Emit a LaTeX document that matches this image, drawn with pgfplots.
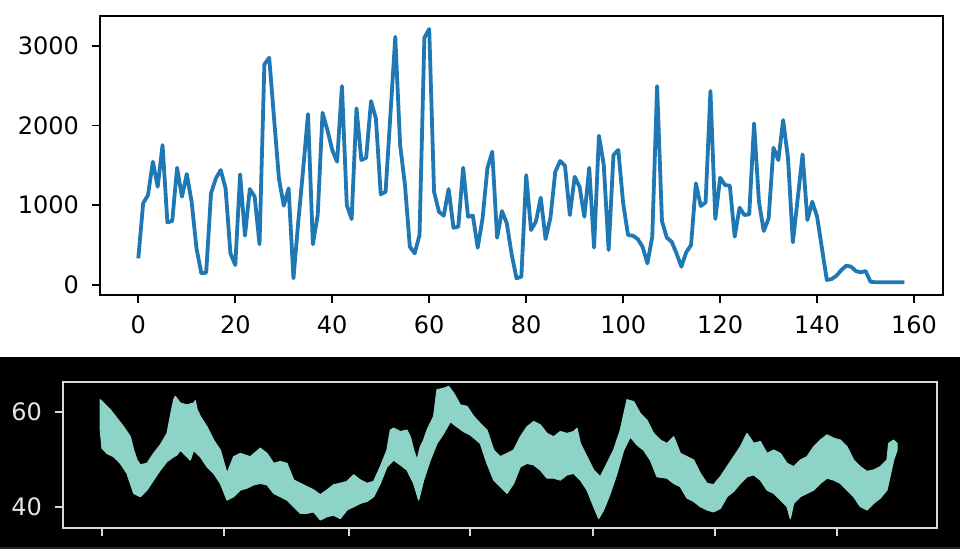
\documentclass[border=0pt]{standalone}
\usepackage{fontspec}
\setmainfont{DejaVu Sans}
\usepackage{pgfplots}
\pgfplotsset{compat=1.18}
\definecolor{mplblue}{HTML}{1F77B4}
\definecolor{dteal}{HTML}{8DD3C7}
\begin{document}
\begin{tikzpicture}
\fill[white] (0,96.15pt) rectangle (480pt,274.5pt);
\fill[black] (0,1.15pt) rectangle (480pt,96.15pt);
\fill[black!85!white] (0,0) rectangle (480pt,1.15pt);
\begin{axis}[
  at={(50pt,127pt)}, anchor=south west,
  scale only axis, width=421.35pt, height=139.65pt,
  xmin=-7.9, xmax=165.9, ymin=-125, ymax=3375,
  xtick={0,20,...,160}, ytick={0,1000,2000,3000},
  scaled ticks=false,
  /pgf/number format/set thousands separator={},
  /pgf/number format/assume math mode=true,
  tick pos=left, tick align=outside, major tick length=4pt,
  axis line style={line width=0.9pt, black},
  tick style={line width=0.9pt, black},
  ticklabel style={font=\fontsize{12}{14}\selectfont, text=black},
  xticklabel style={yshift=-3pt},
  yticklabel style={xshift=-3pt},
]
\addplot[mplblue, line width=1.9pt, line join=round] coordinates {
(0,334)(1,1023)(2,1128)(3,1545)(4,1232)(5,1754)(6,785)(7,802)(8,1470)(9,1107)
(10,1391)(11,1044)(12,459)(13,146)(14,155)(15,1149)(16,1337)(17,1441)(18,1211)(19,397)
(20,251)(21,1387)(22,618)(23,1203)(24,1107)(25,510)(26,2765)(27,2848)(28,2088)(29,1337)
(30,994)(31,1211)(32,84)(33,800)(34,1450)(35,2143)(36,510)(37,877)(38,2159)(39,1942)
(40,1692)(41,1545)(42,2493)(43,1002)(44,827)(45,2214)(46,1566)(47,1595)(48,2305)(49,2088)
(50,1136)(51,1169)(52,2139)(53,3111)(54,1754)(55,1253)(56,480)(57,397)(58,627)(59,3099)
(60,3208)(61,1169)(62,919)(63,869)(64,1203)(65,718)(66,731)(67,1470)(68,856)(69,869)
(70,468)(71,835)(72,1462)(73,1671)(74,593)(75,927)(76,773)(77,384)(78,84)(79,104)
(80,1378)(81,689)(82,794)(83,1094)(84,576)(85,844)(86,1420)(87,1554)(88,1495)(89,877)
(90,1357)(91,1232)(92,856)(93,1470)(94,468)(95,1871)(96,1504)(97,439)(98,1629)(99,1692)
(100,1023)(101,627)(102,618)(103,576)(104,480)(105,271)(106,606)(107,2493)(108,802)(109,593)
(110,543)(111,397)(112,230)(113,409)(114,501)(115,1274)(116,990)(117,1036)(118,2431)(119,827)
(120,1345)(121,1253)(122,1245)(123,606)(124,969)(125,877)(126,886)(127,2026)(128,1044)(129,677)
(130,835)(131,1721)(132,1566)(133,2067)(134,1587)(135,535)(136,1086)(137,1637)(138,815)(139,1044)
(140,856)(141,459)(142,63)(143,75)(144,117)(145,188)(146,242)(147,230)(148,175)(149,159)
(150,175)(151,42)(152,34)(153,34)(154,34)(155,34)(156,34)(157,34)(158,34)
};
\end{axis}
\begin{axis}[
  at={(31.5pt,10.5pt)}, anchor=south west,
  scale only axis, width=437pt, height=73.15pt,
  xmin=188, xmax=2810, ymin=35.5, ymax=66.3,
  xtick={305,672,1045,1410,1777,2145,2510}, xticklabels={},
  ytick={40,60},
  /pgf/number format/assume math mode=true,
  tick pos=left, tick align=outside, major tick length=4pt,
  axis line style={line width=0.9pt, white!85!black},
  tick style={line width=0.9pt, white!85!black},
  ticklabel style={font=\fontsize{12}{14}\selectfont, text=white!90!black},
  yticklabel style={xshift=-3pt},
]
\addplot[fill=dteal, draw=dteal, line width=0.6pt, line join=round] coordinates {
(300,62.5)(310,61.8)(330,60.4)(350,58.6)(370,56.8)(390,54.7)(400,51.9)(410,49.8)(420,48.8)(440,49.1)
(460,51.2)(480,53.0)(500,55.4)(510,59.0)(520,62.5)(525,63.2)(540,61.8)(560,61.4)(580,61.8)(585,62.3)(590,60.5)
(600,59.0)(620,56.8)(640,54.0)(660,51.9)(680,47.0)(700,50.5)(720,51.2)(750,50.5)(780,52.3)(800,51.2)
(820,49.1)(840,49.5)(860,49.1)(880,45.6)(900,44.9)(920,44.2)(940,43.5)(960,42.5)(980,43.5)(1000,44.6)
(1020,44.9)(1040,45.3)(1060,46.7)(1080,45.6)(1100,44.9)(1120,45.3)(1140,48.4)(1160,51.9)(1170,56.1)(1180,56.5)
(1200,55.8)(1220,56.1)(1230,54.7)(1240,51.9)(1250,49.8)(1260,52.6)(1270,54.0)(1280,56.1)(1300,59.0)(1310,64.6)
(1330,64.9)(1345,65.3)(1360,63.9)(1380,61.4)(1400,61.1)(1420,59.0)(1440,57.5)(1460,56.1)(1480,51.9)(1500,50.5)
(1520,51.2)(1540,51.9)(1560,54.7)(1580,56.8)(1600,57.9)(1620,57.2)(1640,55.4)(1660,54.7)(1680,55.8)(1700,55.4)
(1720,55.8)(1730,56.5)(1740,53.3)(1760,50.5)(1780,47.7)(1800,46.3)(1820,49.1)(1840,51.9)(1860,56.1)(1880,62.5)
(1900,62.1)(1920,59.6)(1940,58.2)(1960,55.4)(1980,54.0)(2000,53.3)(2020,54.7)(2040,51.2)(2060,50.5)(2080,49.8)
(2100,47.0)(2120,44.9)(2140,44.6)(2160,46.3)(2180,48.4)(2200,50.5)(2220,52.6)(2240,55.4)(2260,53.3)(2280,53.7)
(2300,51.2)(2320,51.9)(2340,51.2)(2360,49.1)(2380,48.4)(2400,49.8)(2420,50.5)(2440,52.6)(2460,54.0)(2480,55.1)
(2500,54.4)(2520,54.0)(2540,52.6)(2560,49.8)(2580,48.4)(2600,47.4)(2620,47.7)(2640,48.4)(2660,49.8)(2665,53.3)
(2680,54.0)(2690,53.3)
(2690,51.9)(2680,49.8)(2660,43.5)(2640,41.8)(2620,40.7)(2600,39.3)(2580,40.0)(2560,42.1)(2540,43.5)(2520,44.9)
(2500,45.6)(2480,46.0)(2460,44.9)(2440,43.5)(2420,42.8)(2400,42.1)(2380,40.7)(2370,37.5)(2360,40.0)(2340,41.4)
(2320,42.8)(2300,43.5)(2280,45.6)(2260,46.7)(2240,46.3)(2220,44.9)(2200,43.2)(2180,42.1)(2160,39.6)(2140,38.9)
(2120,39.3)(2100,40.0)(2080,41.1)(2060,41.8)(2040,44.2)(2020,44.9)(2000,46.0)(1970,46.3)(1950,49.8)(1930,51.9)
(1910,53.0)(1890,54.7)(1870,51.9)(1850,47.0)(1830,42.8)(1810,39.3)(1795,37.5)(1780,40.0)(1760,43.5)(1740,45.6)
(1720,47.0)(1700,46.7)(1680,45.6)(1660,46.0)(1640,46.0)(1620,47.7)(1600,48.8)(1580,49.1)(1560,48.4)(1540,44.9)
(1520,42.8)(1500,44.2)(1480,45.6)(1460,49.1)(1440,53.3)(1410,55.1)(1390,55.8)(1370,56.8)(1350,57.9)(1330,55.4)
(1310,53.3)(1290,49.8)(1270,45.6)(1255,41.4)(1240,44.9)(1220,47.7)(1200,48.8)(1180,49.8)(1160,48.4)(1140,44.9)
(1120,42.1)(1100,41.1)(1080,40.7)(1060,40.0)(1040,39.3)(1020,37.5)(1000,38.2)(980,37.9)(960,37.2)(940,38.9)
(920,38.6)(900,38.6)(880,40.0)(860,41.4)(840,42.1)(820,42.8)(800,44.6)(780,44.9)(760,44.6)(740,43.9)
(720,43.5)(700,42.1)(680,41.4)(660,44.9)(640,47.0)(620,48.4)(600,50.5)(580,51.9)(570,49.8)(560,50.5)
(540,51.9)(530,50.9)(520,50.5)(500,49.5)(480,47.7)(460,45.6)(440,43.5)(420,42.1)(400,42.8)(380,47.0)(360,49.1)
(340,50.5)(320,51.2)(305,52.3)(300,56.1)
} -- cycle;
\end{axis}
\end{tikzpicture}
\end{document}
